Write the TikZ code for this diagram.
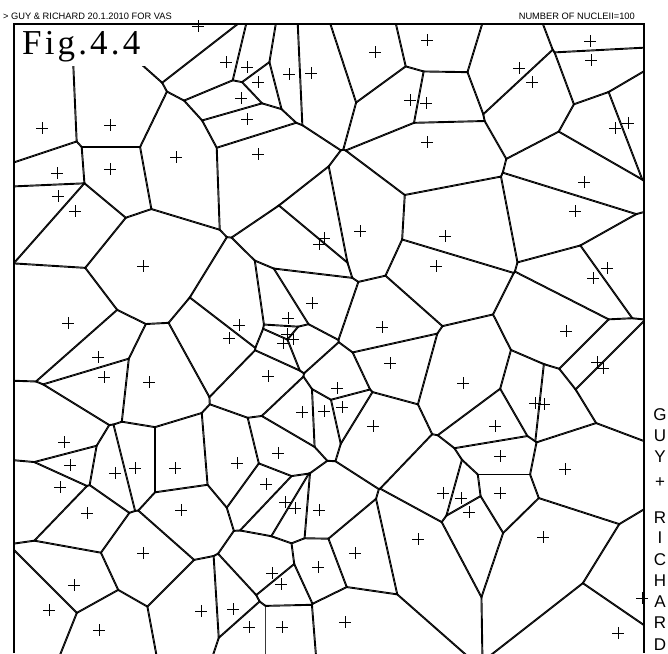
\documentclass[tikz,border=0pt]{standalone}
\usepackage{fontspec}
\setmainfont{Liberation Serif}
\newfontfamily\labelfont{Liberation Sans}
\newfontfamily\figfont[LetterSpace=9]{Liberation Serif}
\tikzset{
  celledge/.style={line width=1.9pt},
  nucleus/.style={line width=0.9pt},
  frameline/.style={line width=1.1pt}
}
\def\nuclei{198/26,226/62,42/128,110/125,176/157,110/169,57/173,58/196,75/211,
247/67,258/82,241/98,247/119,289/74,311/73,375/52,427/40,410/100,426/103,427/142,
258/154,590/41,591/60,519/68,532/82,615/128,628/123,584/182,575/211,143/266,
68/323,98/357,104/377,149/382,324/238,319/244,360/231,445/236,436/266,312/303,
288/318,239/325,229/338,287/334,293/339,283/343,382/327,390/363,268/376,337/388,
342/407,324/411,302/412,373/426,593/278,607/268,566/331,597/362,603/368,463/383,
535/403,544/404,495/426,64/442,70/465,60/487,115/473,135/468,175/468,87/513,
181/510,143/553,74/585,49/610,99/630,201/611,278/453,237/463,266/484,285/502,
295/508,319/510,443/493,418/539,355/553,318/567,272/573,281/584,233/609,249/627,
282/627,345/622,500/456,565/469,461/498,500/493,469/512,543/537,642/598,618/633}
\begin{document}
\begin{tikzpicture}[x=1pt,y=-1pt]
\fill[white] (0,0) rectangle (668,653);
\useasboundingbox (0,0) rectangle (668,653);
% cells: each one is the meet of its half planes
\begin{scope}
\clip (14,24) rectangle (644,653);
\foreach \ax/\ay [count=\i] in \nuclei {
  \begin{scope}
    \foreach \bx/\by in \nuclei {
      \pgfmathsetmacro\dd{veclen(\bx-\ax,\by-\ay)}
      \ifdim\dd pt>0.5pt\ifdim\dd pt<300pt
        \pgfmathsetmacro\ux{(\bx-\ax)/\dd}
        \pgfmathsetmacro\uy{(\by-\ay)/\dd}
        \pgfmathsetmacro\mx{(\ax+\bx)/2}
        \pgfmathsetmacro\my{(\ay+\by)/2}
        \clip ({\mx-1500*(\uy)},{\my+1500*(\ux)})
          -- ({\mx+1500*(\uy)},{\my-1500*(\ux)})
          -- ({\mx+1500*(\uy)-1500*(\ux)},{\my-1500*(\ux)-1500*(\uy)})
          -- ({\mx-1500*(\uy)-1500*(\ux)},{\my+1500*(\ux)-1500*(\uy)}) -- cycle;
      \fi\fi
    }
    \foreach \bx/\by in \nuclei {
      \pgfmathsetmacro\dd{veclen(\bx-\ax,\by-\ay)}
      \ifdim\dd pt>0.5pt\ifdim\dd pt<300pt
        \pgfmathsetmacro\ux{(\bx-\ax)/\dd}
        \pgfmathsetmacro\uy{(\by-\ay)/\dd}
        \pgfmathsetmacro\mx{(\ax+\bx)/2}
        \pgfmathsetmacro\my{(\ay+\by)/2}
        \draw[celledge] ({\mx-800*(\uy)},{\my+800*(\ux)})
          -- ({\mx+800*(\uy)},{\my-800*(\ux)});
      \fi\fi
    }
  \end{scope}
}
\end{scope}
% frame
\draw[frameline] (14,653) -- (14,24) -- (644,24) -- (644,653);
\fill[white] (15,25) rectangle (152,66);
\node[anchor=base west,inner sep=0pt,font=\figfont\fontsize{35}{35}\selectfont]
  (fig) at (22,54) {Fig.4.4};
\node[anchor=base west,inner sep=0pt,font=\labelfont\fontsize{9.3}{10}\selectfont]
  (title) at (3,19) {> GUY \& RICHARD 20.1.2010 FOR VAS};
\node[anchor=base east,inner sep=0pt,font=\labelfont\fontsize{9.3}{10}\selectfont]
  (count) at (635,19) {NUMBER OF NUCLEII=100};
% nuclei
\foreach \x/\y [count=\i] in \nuclei {
  \coordinate (n\i) at (\x,\y);
  \draw[nucleus] (n\i) ++(-6,0) -- ++(12,0) (n\i) ++(0,-6) -- ++(0,12);
}
% signature down the right side
\foreach \c/\y [count=\k] in {G/415,U/436,Y/457,+/483,R/518,I/538,C/560,H/581,A/602,R/623,D/645}
  \node[inner sep=0pt,font=\labelfont\fontsize{17}{17}\selectfont] (sig\k) at (660,\y) {\c};
\end{tikzpicture}
\end{document}
